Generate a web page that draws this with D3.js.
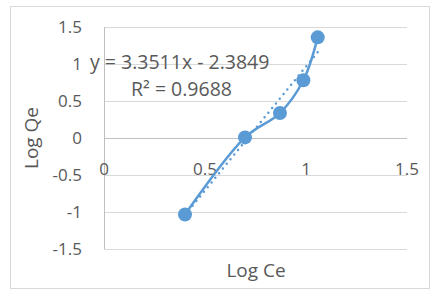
<!DOCTYPE html>
<html>
<head>
<meta charset="utf-8">
<script src="https://cdn.jsdelivr.net/npm/d3@7"></script>
<style>
	body {margin: 0; background: #fff;}
	text {font-family: "Open Sans", "Liberation Sans", sans-serif; fill: #595959;}
</style>
</head>
<body>
<script>
var logCe = [0.401, 0.698, 0.871, 0.987, 1.058];
var logQe = [-1.034, 0.008, 0.337, 0.78, 1.36];
var xTicks = [0, 0.5, 1, 1.5];
var yTicks = [-1.5, -1, -0.5, 0, 0.5, 1, 1.5];
var slope = 3.3511, intercept = -2.3849;
var eqLines = ["y = 3.3511x - 2.3849", "R² = 0.9688"];

var svg = d3.select("body").append("svg")
	.attr("width", 432)
	.attr("height", 290);

var margin = {top: 27, right: 25, bottom: 41, left: 104},
	width = 432 - margin.left - margin.right,
	height = 290 - margin.top - margin.bottom,
	blue = "#5b9bd5";

svg.append("rect")
	.attr("x", 10.5).attr("y", 6.5)
	.attr("width", 419).attr("height", 282)
	.attr("fill", "#fff")
	.attr("stroke", "#d9d9d9");

var g = svg.append("g").attr("transform", "translate(" + margin.left + "," + margin.top + ")");

var x = d3.scaleLinear().domain([0, 1.5]).range([0, width]);
var y = d3.scaleLinear().domain([-1.5, 1.5]).range([height, 0]);

//Gridlines
g.selectAll(".grid").data(yTicks).enter().append("line")
	.attr("class", "grid")
	.attr("x1", 0).attr("x2", width)
	.attr("y1", function(d){return Math.round(y(d)) + 0.5;})
	.attr("y2", function(d){return Math.round(y(d)) + 0.5;})
	.attr("stroke", "#d9d9d9")
	.attr("stroke-width", 1);

g.append("line")
	.attr("x1", 0.5).attr("x2", 0.5)
	.attr("y1", 0).attr("y2", height)
	.attr("stroke", "#bfbfbf");

g.append("line")
	.attr("x1", 0).attr("x2", width)
	.attr("y1", Math.round(y(0)) + 0.5).attr("y2", Math.round(y(0)) + 0.5)
	.attr("stroke", "#bfbfbf");

//Tick labels
g.selectAll(".ylab").data(yTicks).enter().append("text")
	.attr("class", "ylab")
	.attr("x", -22)
	.attr("y", function(d){return y(d);})
	.attr("dy", "0.35em")
	.attr("text-anchor", "end")
	.attr("font-size", 17)
	.text(function(d){return d;});

g.selectAll(".xlab").data(xTicks).enter().append("text")
	.attr("class", "xlab")
	.attr("x", function(d){return x(d);})
	.attr("y", y(0) + 31)
	.attr("dy", "0.35em")
	.attr("text-anchor", "middle")
	.attr("font-size", 17)
	.text(function(d){return d;});

//Axis titles
svg.append("text")
	.attr("transform", "translate(31," + (margin.top + y(0)) + ") rotate(-90)")
	.attr("text-anchor", "middle")
	.attr("dy", "0.35em")
	.attr("font-size", 19)
	.text("Log Qe");

svg.append("text")
	.attr("x", 256).attr("y", 270)
	.attr("dy", "0.35em")
	.attr("text-anchor", "middle")
	.attr("font-size", 19)
	.text("Log Ce");

//Trendline
var xMin = d3.min(logCe), xMax = d3.max(logCe);
g.append("line")
	.attr("x1", x(xMin)).attr("y1", y(slope * xMin + intercept))
	.attr("x2", x(xMax)).attr("y2", y(slope * xMax + intercept))
	.attr("stroke", blue)
	.attr("stroke-width", 2.5)
	.attr("stroke-linecap", "round")
	.attr("stroke-dasharray", "0 6");

//Series
var pts = logCe.map(function(d, i){return [d, logQe[i]];});
var line = d3.line()
	.x(function(d){return x(d[0]);})
	.y(function(d){return y(d[1]);})
	.curve(d3.curveCatmullRom.alpha(0.5));

g.append("path")
	.datum(pts)
	.attr("d", line)
	.attr("fill", "none")
	.attr("stroke", blue)
	.attr("stroke-width", 2.5);

g.selectAll(".pt").data(pts).enter().append("circle")
	.attr("class", "pt")
	.attr("cx", function(d){return x(d[0]);})
	.attr("cy", function(d){return y(d[1]);})
	.attr("r", 7)
	.attr("fill", blue);

//Equation label
svg.selectAll(".eq").data(eqLines).enter().append("text")
	.attr("class", "eq")
	.attr("x", function(d, i){return i ? 131 : 90;})
	.attr("y", function(d, i){return 62 + i * 27;})
	.attr("dy", "0.35em")
	.attr("font-size", 19.5)
	.text(function(d){return d;});
</script>
</body>
</html>
